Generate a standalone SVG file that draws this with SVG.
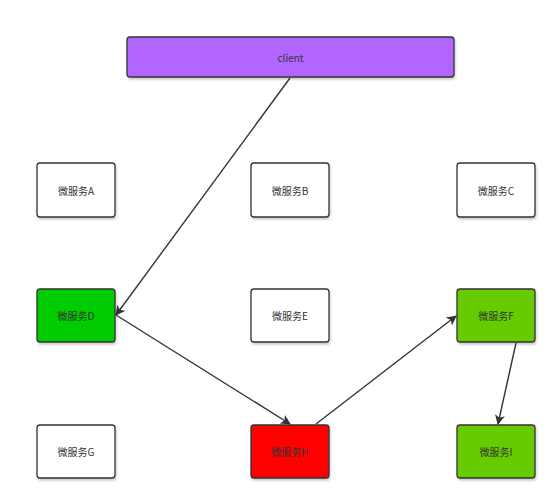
<svg xmlns="http://www.w3.org/2000/svg" width="560" height="504" viewBox="0 0 560 504">
<style>
.box{stroke:#333;stroke-width:1.3;}
.t{font-family:"Noto Sans CJK SC","Liberation Sans",sans-serif;font-size:10px;fill:#333;text-anchor:middle;dominant-baseline:central;}
.c{stroke:#333;stroke-width:1.4;fill:none;marker-end:url(#ah);}
</style>
<defs>
<marker id="ah" markerWidth="10" markerHeight="10" refX="9" refY="5" orient="auto" markerUnits="userSpaceOnUse">
<path d="M0,0 L10,5 L0,10 L2.5,5 Z" fill="#333"/>
</marker>
<filter id="sh" x="-10%" y="-10%" width="130%" height="140%">
<feDropShadow dx="1" dy="2" stdDeviation="1" flood-color="#000" flood-opacity="0.2"/>
</filter>
</defs>
<rect width="560" height="504" fill="#fff"/>
<g id="client"><rect class="box" x="127" y="37" width="327" height="40" rx="3" fill="#b266ff" filter="url(#sh)"/><text class="t" x="290.5" y="57">client</text></g>
<g id="A"><rect class="box" x="37" y="163" width="78" height="54" rx="3" fill="#fff" filter="url(#sh)"/><text class="t" x="76" y="190">微服务A</text></g>
<g id="B"><rect class="box" x="251" y="163" width="78" height="54" rx="3" fill="#fff" filter="url(#sh)"/><text class="t" x="290" y="190">微服务B</text></g>
<g id="C"><rect class="box" x="457" y="163" width="78" height="54" rx="3" fill="#fff" filter="url(#sh)"/><text class="t" x="496" y="190">微服务C</text></g>
<g id="D"><rect class="box" x="37" y="289" width="78" height="53" rx="3" fill="#00cc00" filter="url(#sh)"/><text class="t" x="76" y="315.5">微服务D</text></g>
<g id="E"><rect class="box" x="251" y="289" width="78" height="53" rx="3" fill="#fff" filter="url(#sh)"/><text class="t" x="290" y="315.5">微服务E</text></g>
<g id="F"><rect class="box" x="457" y="289" width="78" height="53" rx="3" fill="#66cc00" filter="url(#sh)"/><text class="t" x="496" y="315.5">微服务F</text></g>
<g id="G"><rect class="box" x="37" y="425" width="78" height="53" rx="3" fill="#fff" filter="url(#sh)"/><text class="t" x="76" y="451.5">微服务G</text></g>
<g id="H"><rect class="box" x="251" y="425" width="78" height="53" rx="3" fill="#ff0000" filter="url(#sh)"/><text class="t" x="290" y="451.5">微服务H</text></g>
<g id="I"><rect class="box" x="457" y="425" width="78" height="53" rx="3" fill="#66cc00" filter="url(#sh)"/><text class="t" x="496" y="451.5">微服务I</text></g>
<g id="connectors">
<line class="c" x1="290" y1="78" x2="116" y2="315"/>
<line class="c" x1="116" y1="315" x2="290" y2="424"/>
<line class="c" x1="316" y1="424" x2="456" y2="316"/>
<line class="c" x1="516" y1="343" x2="498" y2="424"/>
</g>
</svg>
